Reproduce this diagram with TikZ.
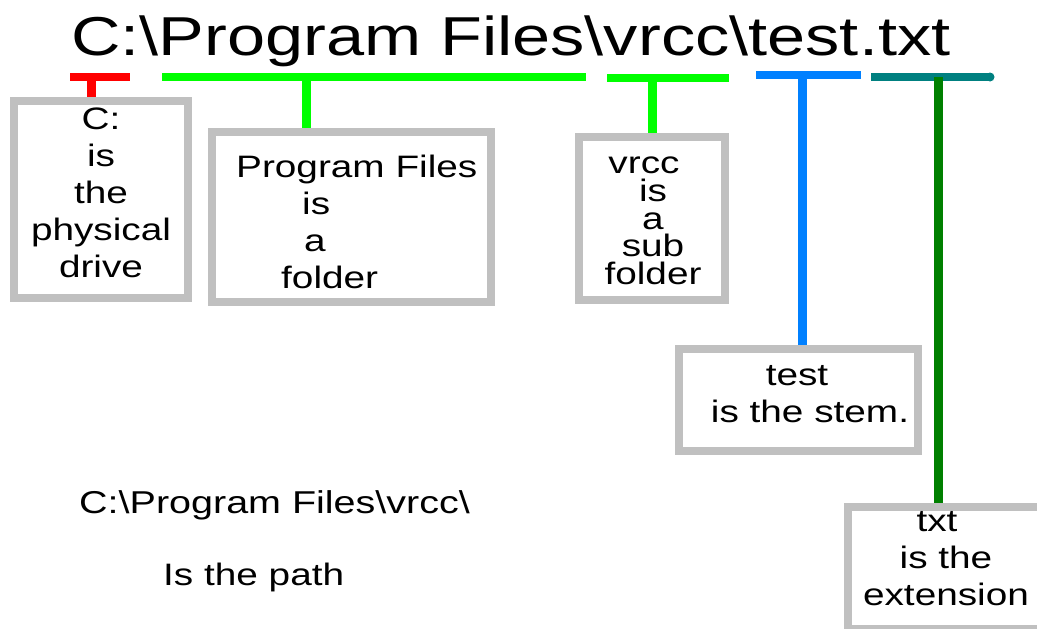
\documentclass[tikz,border=0pt]{standalone}
\usepackage{fontspec}
\newfontfamily\widesans[FakeStretch=1.25]{Liberation Sans}
\definecolor{boxgrey}{HTML}{C0C0C0}
\definecolor{drivered}{HTML}{FF0000}
\definecolor{foldergreen}{HTML}{00FF00}
\definecolor{stemblue}{HTML}{0080FF}
\definecolor{extteal}{HTML}{008080}
\definecolor{extgreen}{HTML}{008000}
\begin{document}
\begin{tikzpicture}[x=1pt,y=-1pt,
    greybox/.style={draw=boxgrey,line width=8pt,inner sep=0pt},
    boxtext/.style={font=\widesans\fontsize{31}{37}\selectfont,align=center,inner sep=0pt,anchor=north},
    bar/.style={line width=8pt},
    stem/.style={line width=9pt}]
    \useasboundingbox (0,0) rectangle (1037,629);
    \clip (0,0) rectangle (1037,629);
    % the full path
    \node[font=\widesans\fontsize{54.8}{60}\selectfont,inner sep=0pt,anchor=base west] (path) at (71,55) {C:\textbackslash Program Files\textbackslash vrcc\textbackslash test.txt};
    % boxes
    \node[greybox,minimum width=174pt,minimum height=197pt] (drive) at (101,199.5) {};
    \node[greybox,minimum width=279pt,minimum height=170pt] (folder) at (351.5,217) {};
    \node[greybox,minimum width=146pt,minimum height=163pt] (subfolder) at (652,218.5) {};
    \node[greybox,minimum width=239pt,minimum height=102pt] (stem) at (798.5,400) {};
    \node[greybox,minimum width=197pt,minimum height=122pt] (ext) at (946.5,568) {};
    % texts in the boxes
    \node[boxtext] (driveText) at (101,108) {C:\\is\\the\\physical\\drive};
    \node[boxtext,align=left,anchor=north west] (folderText) at (236,155) {Program Files\\\hspace*{66pt}is\\\hspace*{68pt}a\\\hspace*{45pt}folder};
    \node[boxtext,font=\widesans\fontsize{31}{27.7}\selectfont] (subfolderText) at (653,157) {vrcc\hspace*{18pt}\\is\\a\\sub\\folder};
    \node[boxtext] (stemText) at (810,365) {test\hspace*{26pt}\\is the stem.};
    \node[boxtext] (extText) at (946,511) {txt\hspace*{18pt}\\is the\\extension};
    % bars under the path
    \coordinate (redL) at (70,76.5);
    \coordinate (redR) at (130,76.5);
    \coordinate (redS) at (91.5,76.5);
    \draw[bar,drivered] (redL) -- (redR);
    \draw[stem,drivered] (redS) -- (redS |- drive.north);
    \coordinate (greenL) at (162,76.5);
    \coordinate (greenR) at (586,76.5);
    \coordinate (greenS) at (306.5,76.5);
    \draw[bar,foldergreen] (greenL) -- (greenR);
    \draw[stem,foldergreen] (greenS) -- (greenS |- folder.north);
    \coordinate (subL) at (607,78);
    \coordinate (subR) at (729,78);
    \coordinate (subS) at (652.5,78);
    \draw[bar,foldergreen] (subL) -- (subR);
    \draw[stem,foldergreen] (subS) -- (subS |- subfolder.north);
    \coordinate (blueL) at (756,75);
    \coordinate (blueR) at (861,75);
    \coordinate (blueS) at (802,75);
    \draw[bar,stemblue] (blueL) -- (blueR);
    \draw[stem,stemblue] (blueS) -- (blueS |- stem.north);
    \coordinate (tealL) at (871,77);
    \coordinate (tealR) at (990,77);
    \coordinate (tealS) at (938,77);
    \draw[bar,extteal] (tealL) -- (tealR);
    \fill[extteal] (tealR) circle (4.5pt);
    \draw[stem,extgreen] (tealS) -- (tealS |- ext.north);
    % the path alone
    \node[font=\widesans\fontsize{31.6}{37}\selectfont,inner sep=0pt,anchor=base west] (pathOnly) at (79,513) {C:\textbackslash Program Files\textbackslash vrcc\textbackslash};
    \node[font=\widesans\fontsize{31}{37}\selectfont,inner sep=0pt,anchor=base west] (isPath) at (163,585) {Is the path};
\end{tikzpicture}
\end{document}
